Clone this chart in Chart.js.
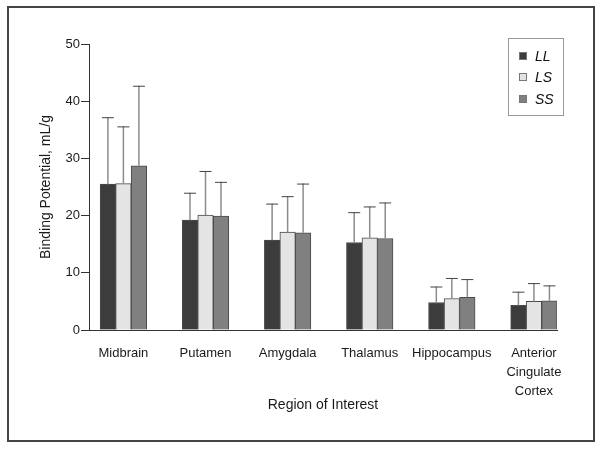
<!DOCTYPE html>
<html>
<head>
<meta charset="utf-8">
<script src="https://cdn.jsdelivr.net/npm/chart.js@4.4.1/dist/chart.umd.min.js"></script>
<style>
  body { margin: 0; background: #fff; }
</style>
</head>
<body>
<canvas id="myChart" width="600" height="449"></canvas>
<script>
// regions (x axis) and the three genotype groups
const regions = ['Midbrain', 'Putamen', 'Amygdala', 'Thalamus', 'Hippocampus', ['Anterior', 'Cingulate', 'Cortex']];
const groupNames = ['LL', 'LS', 'SS'];

// mean binding potential, mL/g
const llMean = [25.5, 19.2, 15.7, 15.3, 4.8, 4.3];
const lsMean = [25.6, 20.1, 17.1, 16.1, 5.5, 5.0];
const ssMean = [28.7, 19.9, 17.0, 16.0, 5.7, 5.1];

// top of the error bar (mean + SD)
const llTop = [37.2, 24.0, 22.1, 20.6, 7.6, 6.7];
const lsTop = [35.6, 27.8, 23.4, 21.6, 9.1, 8.2];
const ssTop = [42.7, 25.9, 25.6, 22.3, 8.9, 7.8];

const yTicks = [0, 10, 20, 30, 40, 50];

const fontName = "'Liberation Sans', Arial, sans-serif";
const colors = ['#3c3c3c', '#e4e4e4', '#808080'];
const means = [llMean, lsMean, ssMean];
const tops = [llTop, lsTop, ssTop];

function toPoints(arr) {
    return arr.map((v, i) => ({x: i, y: v}));
}

const errorBars = {
    id: 'errorBars',
    afterDatasetsDraw(chart) {
        const ctx = chart.ctx;
        const yScale = chart.scales.y;
        chart.data.datasets.forEach((ds, d) => {
            const meta = chart.getDatasetMeta(d);
            meta.data.forEach((bar, i) => {
                const yTop = yScale.getPixelForValue(tops[d][i]);
                ctx.save();
                ctx.strokeStyle = '#8c8c8c';
                ctx.lineWidth = 1.5;
                ctx.beginPath();
                ctx.moveTo(bar.x, bar.y);
                ctx.lineTo(bar.x, yTop);
                ctx.stroke();
                ctx.strokeStyle = '#444';
                ctx.lineWidth = 1;
                ctx.beginPath();
                ctx.moveTo(bar.x - 6, yTop + 0.5);
                ctx.lineTo(bar.x + 6, yTop + 0.5);
                ctx.stroke();
                ctx.restore();
            });
        });
    }
};

const frameAndLegend = {
    id: 'frameAndLegend',
    afterDraw(chart) {
        const ctx = chart.ctx;
        ctx.save();
        // outer frame
        ctx.strokeStyle = '#444';
        ctx.lineWidth = 2;
        ctx.strokeRect(8, 7, 586, 434);
        // legend box
        ctx.strokeStyle = '#999';
        ctx.lineWidth = 1;
        ctx.strokeRect(508.5, 38.5, 55, 77);
        const rows = [56, 77, 99];
        ctx.font = 'italic 14px ' + fontName;
        ctx.textBaseline = 'middle';
        ctx.textAlign = 'left';
        chart.data.datasets.forEach((ds, d) => {
            ctx.fillStyle = ds.backgroundColor;
            ctx.fillRect(519, rows[d] - 4, 8, 8);
            ctx.strokeStyle = '#777';
            ctx.strokeRect(519.5, rows[d] - 3.5, 7, 7);
            ctx.fillStyle = '#111';
            ctx.fillText(ds.label, 535, rows[d] + 1);
        });
        ctx.restore();
    }
};

const data = {
    datasets: groupNames.map((name, d) => ({
        label: name,
        data: toPoints(means[d]),
        backgroundColor: colors[d],
        borderColor: '#4a4a4a',
        borderWidth: 1,
        barThickness: 15.5
    }))
};

const options = {
    responsive: false,
    animation: false,
    layout: {
        padding: {left: 0, right: 43, top: 44, bottom: 30}
    },
    plugins: {
        legend: {display: false},
        tooltip: {enabled: false}
    },
    scales: {
        x: {
            type: 'linear',
            min: -0.419,
            max: 5.281,
            bounds: 'data',
            offset: false,
            grid: {display: false, offset: false},
            border: {display: true, color: '#333', width: 1},
            afterBuildTicks: (scale) => {
                scale.ticks = regions.map((r, i) => ({value: i}));
            },
            afterFit: (scale) => { scale.height = 89; },
            ticks: {
                autoSkip: false,
                includeBounds: false,
                maxRotation: 0,
                padding: 6,
                color: '#1a1a1a',
                font: {family: fontName, size: 13, lineHeight: 1.45},
                callback: (v) => regions[v]
            },
            title: {
                display: true,
                text: 'Region of Interest',
                color: '#1a1a1a',
                font: {family: fontName, size: 14},
                padding: {top: 0, bottom: 5}
            }
        },
        y: {
            min: 0,
            max: 50,
            afterBuildTicks: (scale) => {
                scale.ticks = yTicks.map(v => ({value: v}));
            },
            afterFit: (scale) => { scale.width = 89; },
            grid: {drawOnChartArea: false, drawTicks: true, tickLength: 8, color: '#333'},
            border: {display: true, color: '#333', width: 1},
            ticks: {
                padding: 1,
                color: '#1a1a1a',
                font: {family: fontName, size: 13}
            },
            title: {
                display: true,
                text: 'Binding Potential, mL/g',
                color: '#1a1a1a',
                font: {family: fontName, size: 14},
                padding: {top: 38, bottom: 0}
            }
        }
    }
};

const myChart = new Chart(document.getElementById('myChart'), {
    type: 'bar',
    data: data,
    options: options,
    plugins: [errorBars, frameAndLegend]
});
</script>
</body>
</html>
